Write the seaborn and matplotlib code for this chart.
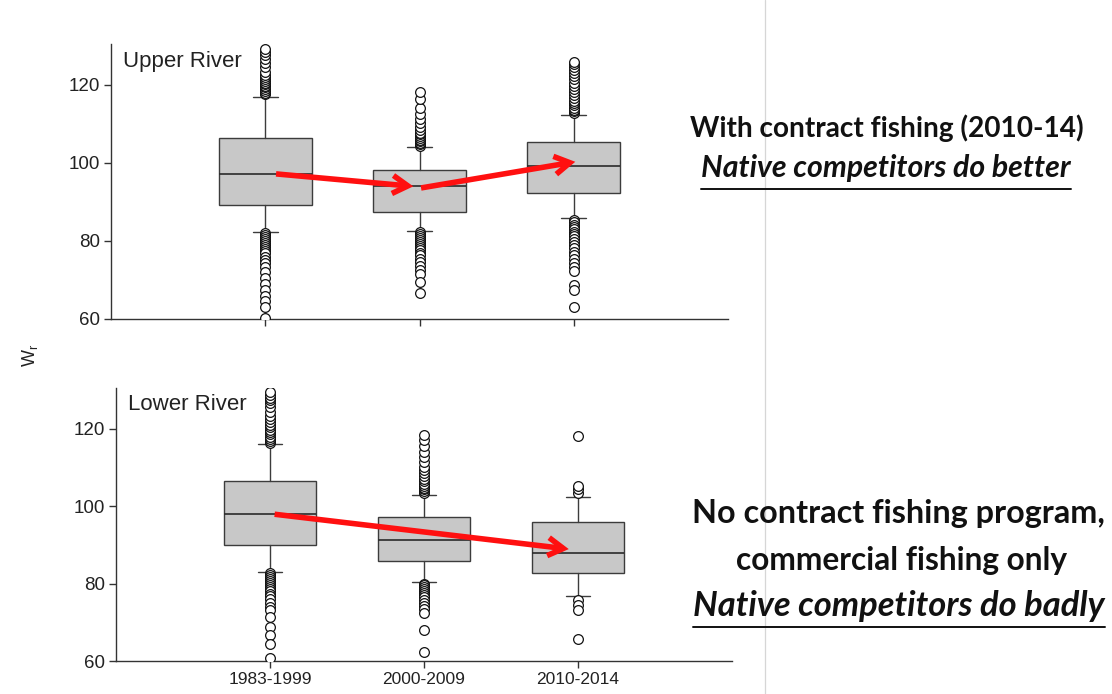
import numpy as np
import pandas as pd
import matplotlib
matplotlib.use("Agg")
import matplotlib.pyplot as plt
import seaborn as sns
from matplotlib.patches import FancyArrowPatch
from matplotlib.lines import Line2D

# ---------------- data ----------------
periods = ["1983-1999", "2000-2009", "2010-2014"]

upper_med = [97.2, 94.1, 99.1]
upper_q1 = [89.1, 87.4, 92.4]
upper_q3 = [106.3, 98.3, 105.3]
upper_whislo = [82.2, 82.6, 85.8]
upper_whishi = [117.0, 104.0, 112.3]

upper_fliers_1983 = [117.6, 118.0, 118.5, 119.0, 119.4, 119.8, 120.2, 120.6, 121.0, 121.5,
                     122.0, 122.6, 123.3, 124.5, 125.6, 126.6, 127.6, 128.4, 129.2,
                     82.0, 81.5, 81.0, 80.5, 80.0, 79.5, 79.0, 78.5, 78.0, 77.4, 76.8,
                     76.0, 75.2, 74.3, 73.4, 72.0, 70.5, 69.0, 67.5, 66.0, 64.5, 63.0, 60.3]
upper_fliers_2000 = [104.4, 104.8, 105.2, 105.6, 106.0, 106.4, 106.8, 107.3, 107.8, 108.5,
                     109.3, 110.2, 111.3, 112.6, 114.0, 116.3, 118.2,
                     82.3, 81.8, 81.3, 80.8, 80.3, 79.8, 79.3, 78.8, 78.2, 77.6, 77.0,
                     76.3, 75.5, 74.6, 73.6, 72.5, 71.5, 69.6, 66.7]
upper_fliers_2010 = [112.8, 113.2, 113.7, 114.2, 114.8, 115.4, 116.0, 116.7, 117.4, 118.2,
                     119.0, 119.8, 120.6, 121.4, 122.2, 123.0, 123.8, 124.5, 125.3, 126.0,
                     85.4, 84.8, 84.2, 83.6, 83.0, 82.4, 81.8, 81.2, 80.5, 79.8, 79.0,
                     78.2, 77.3, 76.4, 75.4, 74.4, 73.4, 72.4, 68.7, 67.4, 63.2]

lower_med = [97.9, 91.3, 87.8]
lower_q1 = [90.0, 85.9, 82.7]
lower_q3 = [106.5, 97.2, 95.8]
lower_whislo = [82.9, 80.4, 76.9]
lower_whishi = [116.1, 102.9, 102.4]

lower_fliers_1983 = [116.4, 116.9, 117.4, 117.9, 118.5, 119.1, 119.7, 120.3, 121.0, 121.7,
                     122.5, 123.3, 124.3, 125.5, 126.5, 127.3, 128.0, 128.8, 129.5,
                     82.6, 82.1, 81.6, 81.1, 80.6, 80.1, 79.6, 79.1, 78.6, 78.0, 77.4,
                     76.7, 75.9, 75.0, 74.0, 73.1, 71.4, 68.8, 66.7, 64.5, 60.7]
lower_fliers_2000 = [103.3, 103.8, 104.3, 104.8, 105.3, 105.8, 106.4, 107.0, 107.7, 108.5,
                     109.3, 110.2, 111.3, 112.6, 114.0, 115.5, 117.0, 118.4,
                     80.0, 79.5, 79.0, 78.5, 78.0, 77.5, 77.0, 76.4, 75.8, 75.1, 74.3,
                     73.4, 72.4, 68.0, 62.4]
lower_fliers_2010 = [103.5, 104.3, 105.2, 118.2, 75.7, 74.4, 73.1, 65.8]

# trend arrows (start period index, start value, end period index, end value)
upper_arrows = [(0.07, 97.2, 0.96, 94.0), (1.01, 93.6, 2.01, 100.3)]
lower_arrows = [(0.03, 97.9, 1.94, 88.9)]

y_ticks = [60, 80, 100, 120]

# ---------------- style ----------------
sns.set_style("ticks")
plt.rcParams["font.family"] = ["Liberation Sans", "DejaVu Sans"]
plt.rcParams["mathtext.fontset"] = "custom"
plt.rcParams["mathtext.rm"] = "Liberation Sans"
plt.rcParams["mathtext.it"] = "Liberation Sans"

W, H = 1112, 694
fig = plt.figure(figsize=(W / 100, H / 100), dpi=100)
fig.patch.set_facecolor("white")

ax_up = fig.add_axes([111 / W, 1 - 319 / H, 617 / W, 275 / H])
ax_lo = fig.add_axes([116 / W, 1 - 661 / H, 616 / W, 273 / H])

ink = "#333333"


def draw_panel(ax, med, q1, q3, wlo, whi, fliers, arrows, label, show_xlabels):
    stats = []
    for i in range(len(periods)):
        stats.append(dict(med=med[i], q1=q1[i], q3=q3[i], whislo=wlo[i],
                          whishi=whi[i], fliers=[]))
    ax.bxp(stats, positions=range(len(periods)), widths=0.6, capwidths=0.16,
           showfliers=False, patch_artist=True, manage_ticks=False,
           boxprops=dict(facecolor="#c8c8c8", edgecolor="#3c3c3c", linewidth=1.0),
           medianprops=dict(color="#2a2a2a", linewidth=1.2),
           whiskerprops=dict(color="#3c3c3c", linewidth=1.0),
           capprops=dict(color="#3c3c3c", linewidth=1.0))
    rows = []
    for p, vals in zip(periods, fliers):
        for v in vals:
            rows.append((p, v))
    df = pd.DataFrame(rows, columns=["period", "value"])
    sns.stripplot(data=df, x="period", y="value", order=periods, jitter=False,
                  marker="o", size=7, color="white", edgecolor="#111111",
                  linewidth=0.9, ax=ax, zorder=4)
    for (x0, y0, x1, y1) in arrows:
        ax.add_patch(FancyArrowPatch((x0, y0), (x1, y1),
                                     arrowstyle="->,head_length=11,head_width=6.5",
                                     color="#ff1010", lw=4, zorder=6,
                                     shrinkA=0, shrinkB=0,
                                     joinstyle="miter", capstyle="butt"))
    ax.set_xlim(-1, 3)
    ax.set_ylim(60, 130.5)
    ax.set_yticks(y_ticks)
    ax.set_xticks(range(len(periods)))
    if show_xlabels:
        ax.set_xticklabels(periods)
    else:
        ax.set_xticklabels([])
    ax.set_xlabel("")
    ax.set_ylabel("")
    ax.tick_params(axis="both", direction="out", length=5, width=1, color=ink,
                   labelcolor="#222222", pad=3)
    ax.tick_params(axis="x", labelsize=12.5)
    ax.tick_params(axis="y", labelsize=13.5)
    for s in ["top", "right"]:
        ax.spines[s].set_visible(False)
    for s in ["left", "bottom"]:
        ax.spines[s].set_color(ink)
        ax.spines[s].set_linewidth(1.0)
    ax.text(0.019, 124.7, label, transform=ax.get_yaxis_transform(),
            ha="left", va="baseline", fontsize=16, color="#222222")


draw_panel(ax_up, upper_med, upper_q1, upper_q3, upper_whislo, upper_whishi,
           [upper_fliers_1983, upper_fliers_2000, upper_fliers_2010],
           upper_arrows, "Upper River", False)
draw_panel(ax_lo, lower_med, lower_q1, lower_q3, lower_whislo, lower_whishi,
           [lower_fliers_1983, lower_fliers_2000, lower_fliers_2010],
           lower_arrows, "Lower River", True)

fig.text(30 / W, 1 - 355 / H, r"$\mathregular{W_r}$", rotation=90,
         ha="center", va="center", fontsize=13, color="#222222")

# divider line
fig.add_artist(Line2D([765 / W, 765 / W], [0, 1], color="#d6d6d6", lw=0.9))

renderer = fig.canvas.get_renderer()


def fit_text(xc, yb, s, width_px, style="normal", underline_y=None):
    t = fig.text(xc / W, 1 - yb / H, s, ha="center", va="baseline",
                 fontsize=20, fontweight="bold", fontstyle=style,
                 family=["Lato", "DejaVu Sans"], color="#111111")
    w = t.get_window_extent(renderer).width
    t.set_fontsize(20 * width_px / w)
    if underline_y is not None:
        bb = t.get_window_extent(renderer)
        yy = 1 - underline_y / H
        fig.add_artist(Line2D([bb.x0 / W, bb.x1 / W], [yy, yy],
                              color="#111111", lw=1.4))
    return t


fit_text(887, 137, "With contract fishing (2010-14)", 395)
fit_text(886, 177, "Native competitors do better", 368, style="italic", underline_y=189)
fit_text(898, 523, "No contract fishing program,", 413)
fit_text(902, 570, "commercial fishing only", 331)
fit_text(899, 616, "Native competitors do badly", 412, style="italic", underline_y=627)

fig.savefig("out.png", dpi=100, facecolor="white")
